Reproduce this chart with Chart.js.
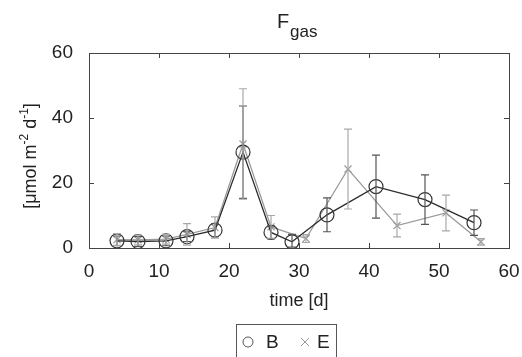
<!DOCTYPE html>
<html lang="en">
<head>
    <meta charset="UTF-8">
    <title>F gas</title>
    <style>
        body { margin: 0; padding: 0; background: #fff; }
        #wrap { width: 522px; height: 357px; position: relative; }
    </style>
    <script src="https://cdn.jsdelivr.net/npm/chart.js@4"></script>
</head>
<body>
    <div id="wrap"><canvas id="gasChart" width="522" height="357"></canvas></div>
    <script>
        // sampling days and fluxes for the two treatments
        const daysB = [4, 7, 11, 14, 18, 22, 26, 29, 34, 41, 48, 55];
        const fluxB = [2.2, 2.0, 2.2, 3.5, 5.5, 29.5, 4.8, 1.9, 10.2, 18.9, 14.9, 7.8];
        const errB = [1.5, 1.5, 1.5, 1.5, 2.0, 14.2, 2.0, 2.3, 5.2, 9.7, 7.6, 3.9];

        const daysE = [4, 7, 11, 14, 18, 22, 26, 31, 37, 44, 51, 56];
        const fluxE = [2.6, 2.5, 2.7, 4.2, 6.3, 32.0, 6.5, 2.9, 24.3, 6.9, 10.8, 1.9];
        const errE = [1.8, 1.5, 1.5, 3.3, 3.3, 17.0, 3.5, 1.2, 12.3, 3.5, 5.5, 1.0];

        const xTicks = [0, 10, 20, 30, 40, 50, 60];
        const yTicks = [0, 20, 40, 60];

        const FONT = '"Liberation Sans", Arial, sans-serif';
        const TXT = '#222';

        function pts(xs, ys) {
            return xs.map((x, i) => ({ x: x, y: ys[i] }));
        }

        // vertical error bars with caps, drawn through the chart scales
        const errorBars = {
            id: 'errorBars',
            afterDatasetsDraw(chart) {
                const ctx = chart.ctx;
                const xs = chart.scales.x, ys = chart.scales.y;
                chart.data.datasets.forEach(ds => {
                    ctx.save();
                    ctx.strokeStyle = ds.errColor;
                    ctx.lineWidth = 1.2;
                    ds.data.forEach((p, i) => {
                        const px = xs.getPixelForValue(p.x);
                        const top = ys.getPixelForValue(p.y + ds.errors[i]);
                        const bot = ys.getPixelForValue(Math.max(p.y - ds.errors[i], 0.3));
                        ctx.beginPath();
                        ctx.moveTo(px, top); ctx.lineTo(px, bot);
                        ctx.moveTo(px - 4, top); ctx.lineTo(px + 4, top);
                        ctx.moveTo(px - 4, bot); ctx.lineTo(px + 4, bot);
                        ctx.stroke();
                    });
                    ctx.restore();
                });
            }
        };

        // axes box, inward ticks, title, y label and legend
        const frame = {
            id: 'frame',
            afterDraw(chart) {
                const ctx = chart.ctx;
                const a = chart.chartArea;
                const xs = chart.scales.x, ys = chart.scales.y;
                ctx.save();
                ctx.strokeStyle = '#444';
                ctx.lineWidth = 1;
                ctx.strokeRect(a.left + 0.5, a.top + 0.5, a.right - a.left, a.bottom - a.top);
                ctx.beginPath();
                xTicks.forEach(t => {
                    const px = Math.round(xs.getPixelForValue(t)) + 0.5;
                    ctx.moveTo(px, a.bottom); ctx.lineTo(px, a.bottom - 5);
                    ctx.moveTo(px, a.top); ctx.lineTo(px, a.top + 5);
                });
                yTicks.forEach(t => {
                    const py = Math.round(ys.getPixelForValue(t)) + 0.5;
                    ctx.moveTo(a.left, py); ctx.lineTo(a.left + 5, py);
                    ctx.moveTo(a.right, py); ctx.lineTo(a.right - 5, py);
                });
                ctx.stroke();

                // title F_gas
                ctx.fillStyle = TXT;
                ctx.textBaseline = 'alphabetic';
                ctx.textAlign = 'left';
                ctx.font = '20px ' + FONT;
                ctx.fillText('F', 277, 28);
                ctx.font = '17px ' + FONT;
                ctx.fillText('gas', 290, 37);

                // y label with superscripts, rotated
                ctx.save();
                ctx.translate(36, 156);
                ctx.rotate(-Math.PI / 2);
                const parts = [['[\u03bcmol m', false], ['-2', true], [' d', false], ['-1', true], [']', false]];
                let w = 0;
                parts.forEach(([s, sup]) => {
                    ctx.font = (sup ? '12px ' : '18px ') + FONT;
                    w += ctx.measureText(s).width;
                });
                let cx = -w / 2;
                parts.forEach(([s, sup]) => {
                    ctx.font = (sup ? '12px ' : '18px ') + FONT;
                    ctx.fillText(s, cx, sup ? -8 : 0);
                    cx += ctx.measureText(s).width;
                });
                ctx.restore();

                // legend box
                ctx.strokeStyle = '#555';
                ctx.strokeRect(236.5, 324.5, 100, 40);
                ctx.beginPath();
                ctx.arc(248, 342, 5, 0, Math.PI * 2);
                ctx.strokeStyle = '#555';
                ctx.stroke();
                ctx.strokeStyle = '#999';
                ctx.beginPath();
                ctx.moveTo(301, 338); ctx.lineTo(309, 346);
                ctx.moveTo(309, 338); ctx.lineTo(301, 346);
                ctx.stroke();
                ctx.fillStyle = TXT;
                ctx.font = '19px ' + FONT;
                ctx.textBaseline = 'middle';
                ctx.fillText('B', 266, 343);
                ctx.fillText('E', 317, 343);
                ctx.restore();
            }
        };

        const chart = new Chart(document.getElementById('gasChart'), {
            type: 'line',
            data: {
                datasets: [
                    {
                        label: 'B',
                        data: pts(daysB, fluxB),
                        errors: errB,
                        errColor: '#555',
                        borderColor: '#2b2b2b',
                        borderWidth: 1.3,
                        pointStyle: 'circle',
                        pointRadius: 7,
                        pointBorderWidth: 1.2,
                        pointBorderColor: '#333',
                        pointBackgroundColor: 'rgba(0,0,0,0)',
                        tension: 0
                    },
                    {
                        label: 'E',
                        data: pts(daysE, fluxE),
                        errors: errE,
                        errColor: '#a8a8a8',
                        borderColor: '#9a9a9a',
                        borderWidth: 1.3,
                        pointStyle: 'crossRot',
                        pointRadius: 5,
                        pointBorderWidth: 1.2,
                        pointBorderColor: '#9a9a9a',
                        tension: 0
                    }
                ]
            },
            options: {
                responsive: false,
                animation: false,
                layout: { padding: { top: 53, right: 13, left: 0, bottom: 45 } },
                plugins: {
                    legend: { display: false },
                    tooltip: { enabled: false }
                },
                scales: {
                    x: {
                        type: 'linear',
                        min: 0, max: 60,
                        afterFit(s) { s.height = 64; s.paddingRight = 0; s.paddingLeft = 0; },
                        afterBuildTicks(s) { s.ticks = xTicks.map(v => ({ value: v })); },
                        grid: { display: false },
                        border: { display: false },
                        ticks: { color: TXT, font: { family: FONT, size: 19 }, padding: 4, maxRotation: 0 },
                        title: { display: true, text: 'time [d]', color: TXT, font: { family: FONT, size: 18 }, padding: { top: 4, bottom: 0 } }
                    },
                    y: {
                        min: 0, max: 60,
                        afterFit(s) { s.width = 89; s.paddingTop = 0; s.paddingBottom = 0; },
                        afterBuildTicks(s) { s.ticks = yTicks.map(v => ({ value: v })); },
                        grid: { display: false },
                        border: { display: false },
                        ticks: { color: TXT, font: { family: FONT, size: 19 }, padding: 8 }
                    }
                }
            },
            plugins: [errorBars, frame]
        });
    </script>
</body>
</html>
